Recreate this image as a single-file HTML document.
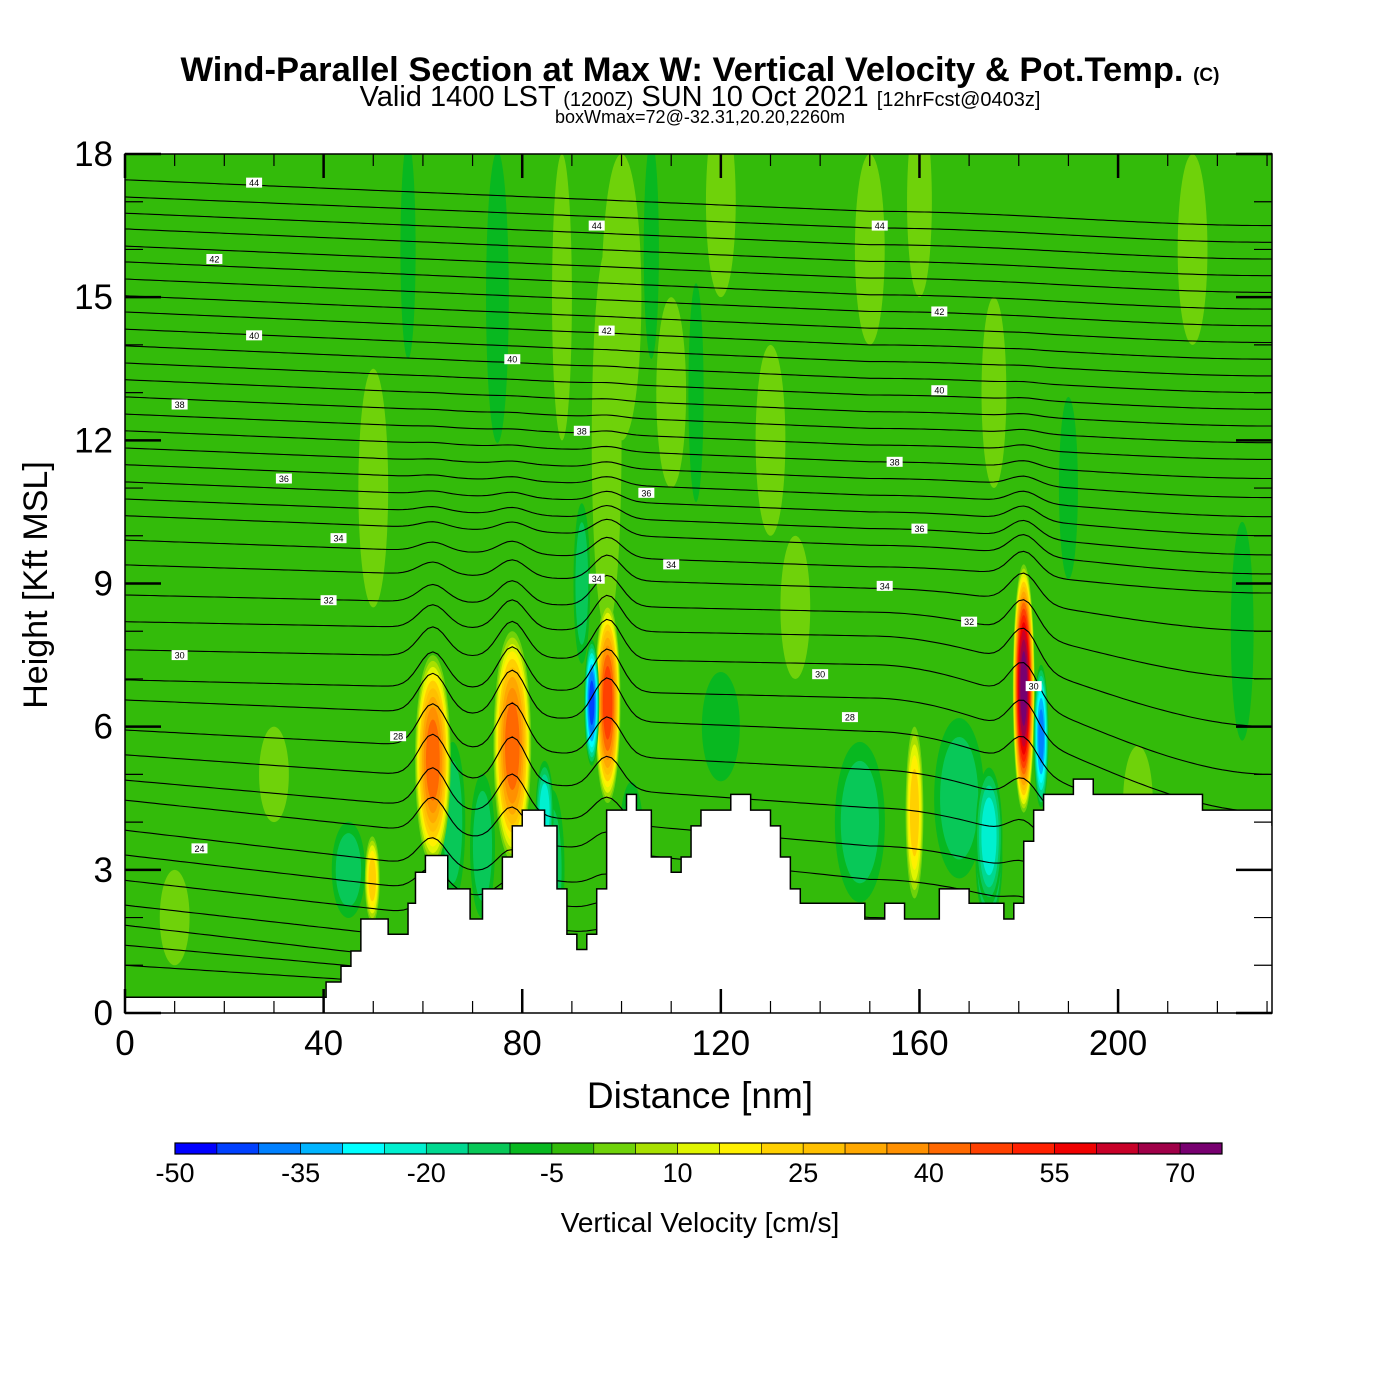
<!DOCTYPE html>
<html><head><meta charset="utf-8"><style>
html,body{margin:0;padding:0;background:#fff;}
svg{display:block;font-family:"Liberation Sans",Arial,sans-serif;}
</style></head><body>
<svg id="chart" width="1400" height="1400" viewBox="0 0 1400 1400">
<rect width="1400" height="1400" fill="#fff"/>
<text x="700" y="81" text-anchor="middle" font-size="34.5" font-weight="bold">Wind-Parallel Section at Max W: Vertical Velocity &amp; Pot.Temp. <tspan font-size="19">(C)</tspan></text>
<text x="700" y="106" text-anchor="middle" font-size="29">Valid 1400 LST <tspan font-size="20">(1200Z)</tspan> SUN 10 Oct 2021 <tspan font-size="20">[12hrFcst@0403z]</tspan></text>
<text x="700" y="123" text-anchor="middle" font-size="18">boxWmax=72@-32.31,20.20,2260m</text>
<defs><clipPath id="plotclip"><rect x="125" y="154" width="1147" height="859"/></clipPath>
<clipPath id="airclip"><polygon id="airpoly"/></clipPath></defs>
<g id="field" clip-path="url(#plotclip)"></g>
<g id="contours" clip-path="url(#plotclip)"></g>
<g id="axes"></g>
<g id="cbar"></g>
<text x="700" y="1108" text-anchor="middle" font-size="37">Distance [nm]</text>
<text transform="translate(47,585) rotate(-90)" text-anchor="middle" font-size="34">Height [Kft MSL]</text>
<text x="700" y="1232" text-anchor="middle" font-size="28">Vertical Velocity [cm/s]</text>
</svg>
<script>
// ---- data ----
const terrainX = [0,40.5,43.5,45.5,47.5,53,57,58.5,60.5,65,69.5,72,76,78,80,84.5,87,89,91,93,95,97,101,103,106,110,112,114,116,122,126,130,132,134,136,149,153,157,164,170,177,179,181,183,185,191,195,217,231];
const terrainH = [0.33,0.65,0.98,1.3,1.97,1.65,2.3,2.95,3.3,2.6,1.97,2.6,3.27,3.92,4.25,3.92,2.6,1.65,1.33,1.65,2.6,4.25,4.58,4.25,3.27,2.95,3.27,3.92,4.25,4.58,4.25,3.92,3.27,2.6,2.3,1.97,2.3,1.97,2.6,2.3,1.97,2.3,3.6,4.25,4.58,4.9,4.58,4.25,3.92];
const binColors = ["#0000ff","#0040ff","#0080ff","#00b4ff","#00ffff","#00f0d0","#00d890","#08c858","#08b820","#33bb0a","#6fd20a","#a8e000","#e0f500","#fff000","#ffd000","#ffc000","#ffa800","#ff9000","#ff6800","#ff4000","#ff2000","#f00000","#c80028","#a00048","#780070"];
const cbTicks = [-50,-35,-20,-5,10,25,40,55,70];
// cells: x(nm), h(kft), rx(nm), ry(kft), peak value(cm/s)
const cellX  = [50,97,120,150,215,175,160,130,30,10,57,75,106,115,190,225,45,92,66,86,148,168,120,174,62,78,97.2,181,49.8,159,94,184.5,84.5,174,72,102,204,100,88,110,135];
const cellH  = [11,12,17,16,16,13,17,12,5,2,16,15,16,13,11,8,3,9,4,3,4,4.5,6,3.2,5.3,5.6,6.5,6.8,2.8,4.2,6.5,5.8,4.2,3.7,3.5,3.5,4.4,15,15,13,8.5];
const cellRX = [3,3,3,3,3,2.5,2.5,3,3,3,2,3,2,2,2.5,3,4,2,3,3,6,6,5,3,3.6,3.8,2.6,2.2,1.5,1.8,1.6,1.6,2,3,3,3,3,4,2,3,3];
const cellRY = [2.5,4,2,2,2,2,2,2,1,1,3,4,3,3,2.5,3,1.2,2,2,2,2,2,1.5,1.4,2.2,2.4,2.1,2.6,0.9,1.8,1.4,1.6,1.2,1.6,1.8,1.6,1.2,3,3,2,1.5];
const cellV  = [3,3,3,3,3,3,3,3,3,3,-7,-7,-7,-7,-7,-7,-12,-12,-12,-12,-12,-12,-7,-22,42,42,47,72,22,22,-40,-35,-22,-22,-12,-12,3,3,3,3,3];
// theta contours: heights at x=0, x=150, x=231 (kft)
const thetaLeft  = [17.46,17.1,16.76,16.43,16.07,15.74,15.38,15.03,14.69,14.33,13.98,13.62,13.27,12.91,12.55,12.2,11.84,11.49,11.13,10.77,10.42,9.91,9.39,8.76,8.2,7.61,6.98,6.56,5.93,5.41,4.88,4.46,3.83,3.31,2.78,2.26,1.84,1.42,1.0];
const thetaMid   = [16.8,16.45,16.1,15.75,15.4,15.05,14.7,14.35,14.0,13.65,13.3,12.95,12.6,12.25,11.9,11.55,11.2,10.85,10.5,10.15,9.8,9.35,8.9,8.4,7.9,7.3,6.6,5.9,5.1,4.3,3.5,2.8,2.0,1.5,1.0,0.5,0,0,0];
const thetaRight = [16.5,16.15,15.8,15.45,15.1,14.75,14.4,14.05,13.7,13.35,13.0,12.65,12.3,11.95,11.6,11.2,10.8,10.4,10.0,9.6,9.2,8.8,8.0,7.0,6.0,5.0,4.2,3.6,3.0,2.4,1.8,1.2,0.6,0,0,0,0,0,0];
const labX = [26,18,26,11,32,43,41,11,15,55,95,97,78,92,105,110,95,152,164,164,155,160,153,170,183,140,146];
const labH = [17.4,15.8,14.2,12.75,11.2,9.95,8.65,7.5,3.45,5.8,16.5,14.3,13.7,12.2,10.9,9.4,9.1,16.5,14.7,13.05,11.55,10.15,8.95,8.2,6.85,7.1,6.2];
const labT = ["44","42","40","38","36","34","32","30","24","28","44","42","40","38","36","34","34","44","42","40","38","36","34","32","30","30","28"];

// ---- axes functions ----
const L=125,R=1272,T=154,B=1013,XMAX=231,YMAX=18,XMID=150;
const xs=v=>L+v*(R-L)/XMAX, ys=v=>B-v*(B-T)/YMAX;
const NS="http://www.w3.org/2000/svg";
function mk(tag,attrs,parent){const e=document.createElementNS(NS,tag);for(const k in attrs)e.setAttribute(k,attrs[k]);parent.appendChild(e);return e;}
function colorOf(v){let i=Math.floor((v+50)/5);i=Math.max(0,Math.min(24,i));return binColors[i];}

let pts=[[xs(0),ys(YMAX)],[xs(XMAX),ys(YMAX)]];
let tp=[];
for(let i=0;i<terrainX.length;i++){const x0=terrainX[i],x1=i+1<terrainX.length?terrainX[i+1]:XMAX;tp.push([xs(x0),ys(terrainH[i])],[xs(x1),ys(terrainH[i])]);}
pts=pts.concat(tp.slice().reverse());
document.getElementById('airpoly').setAttribute('points',pts.map(p=>p.join(',')).join(' '));

const field=document.getElementById('field');
const air=mk('g',{'clip-path':'url(#airclip)'},field);


mk('rect',{x:L,y:T,width:R-L,height:B-T,fill:binColors[9]},air);
for(let c=0;c<cellX.length;c++){
  const v=cellV[c],mag=Math.abs(v);
  const g=mk('g',{},air);
  
  
  const start=v>=0?0:5;
  for(let lev=start;lev<=mag;lev+=5){
    const f=Math.sqrt(Math.max(0.04,1-lev/(mag+5)));
    mk('ellipse',{cx:xs(cellX[c]),cy:ys(cellH[c]),rx:cellRX[c]*(R-L)/XMAX*f,ry:cellRY[c]*(B-T)/YMAX*f,fill:colorOf(v>=0?lev+0.1:-lev-0.1)},g);
  }
}
const tl=mk('polyline',{points:tp.map(p=>p.join(',')).join(' '),fill:'none',stroke:'#000','stroke-width':1.5},field);



const cont=document.getElementById('contours');
const cg=mk('g',{'clip-path':'url(#airclip)'},cont);
const lifts=[[62,0.9,5.3],[78,1.0,5.6],[97.2,0.9,6.5],[181,0.8,6.8]];
function smooth(t){return t*t*(3-2*t);}
for(let k=0;k<thetaLeft.length;k++){
  let d='';
  for(let x=0;x<=XMAX;x+=1){
    let h;
    if(x<=XMID) h=thetaLeft[k]+(thetaMid[k]-thetaLeft[k])*(x/XMID);
    else h=thetaMid[k]+(thetaRight[k]-thetaMid[k])*smooth((x-XMID)/(XMAX-XMID));
    for(const [lx,a,lh] of lifts){h+=a*Math.exp(-Math.pow((x-lx)/4,2))*Math.exp(-Math.pow((h-lh)/3.5,2));}
    d+=(x?'L':'M')+xs(x).toFixed(1)+','+ys(h).toFixed(1);
  }
  const p=mk('path',{d:d,fill:'none',stroke:'#000','stroke-width':1.1},cg);
  
  
}
for(let i=0;i<labX.length;i++){
  const g=mk('g',{},cont);
  
  
  mk('rect',{x:xs(labX[i])-8,y:ys(labH[i])-5,width:16,height:10,fill:'#fff'},g);
  mk('text',{x:xs(labX[i]),y:ys(labH[i])+3.5,'font-size':9,'text-anchor':'middle'},g).textContent=labT[i];
}

const ax=document.getElementById('axes');
mk('rect',{x:L,y:T,width:R-L,height:B-T,fill:'none',stroke:'#000','stroke-width':1.5},ax);
for(let v=0;v<=XMAX;v+=10){
  const maj=v%40===0,len=maj?24:12;
  mk('line',{x1:xs(v),x2:xs(v),y1:B,y2:B-len,stroke:'#000','stroke-width':maj?2.5:1.2},ax);
  mk('line',{x1:xs(v),x2:xs(v),y1:T,y2:T+len,stroke:'#000','stroke-width':maj?2.5:1.2},ax);
  if(maj){const t=mk('text',{x:xs(v),y:1055,'font-size':35,'text-anchor':'middle'},ax);t.textContent=v;
    }
}
for(let v=0;v<=YMAX;v+=1){
  const maj=v%3===0,len=maj?36:18;
  mk('line',{x1:L,x2:L+len,y1:ys(v),y2:ys(v),stroke:'#000','stroke-width':maj?2.5:1.2},ax);
  mk('line',{x1:R,x2:R-len,y1:ys(v),y2:ys(v),stroke:'#000','stroke-width':maj?2.5:1.2},ax);
  if(maj){const t=mk('text',{x:113,y:ys(v)+12,'font-size':35,'text-anchor':'end'},ax);t.textContent=v;
    }
}
const cb=document.getElementById('cbar');
const cbL=175,cbW=1047/25;
binColors.forEach((c,i)=>{const r=mk('rect',{x:cbL+i*cbW,y:1143,width:cbW,height:11,fill:c,stroke:'#000','stroke-width':0.6},cb);
  });
mk('rect',{x:cbL,y:1143,width:1047,height:11,fill:'none',stroke:'#000','stroke-width':1.2},cb);
cbTicks.forEach(v=>{const t=mk('text',{x:cbL+(v+50)/5*cbW,y:1182,'font-size':27,'text-anchor':'middle'},cb);t.textContent=v;
  });
</script>
</body></html>
